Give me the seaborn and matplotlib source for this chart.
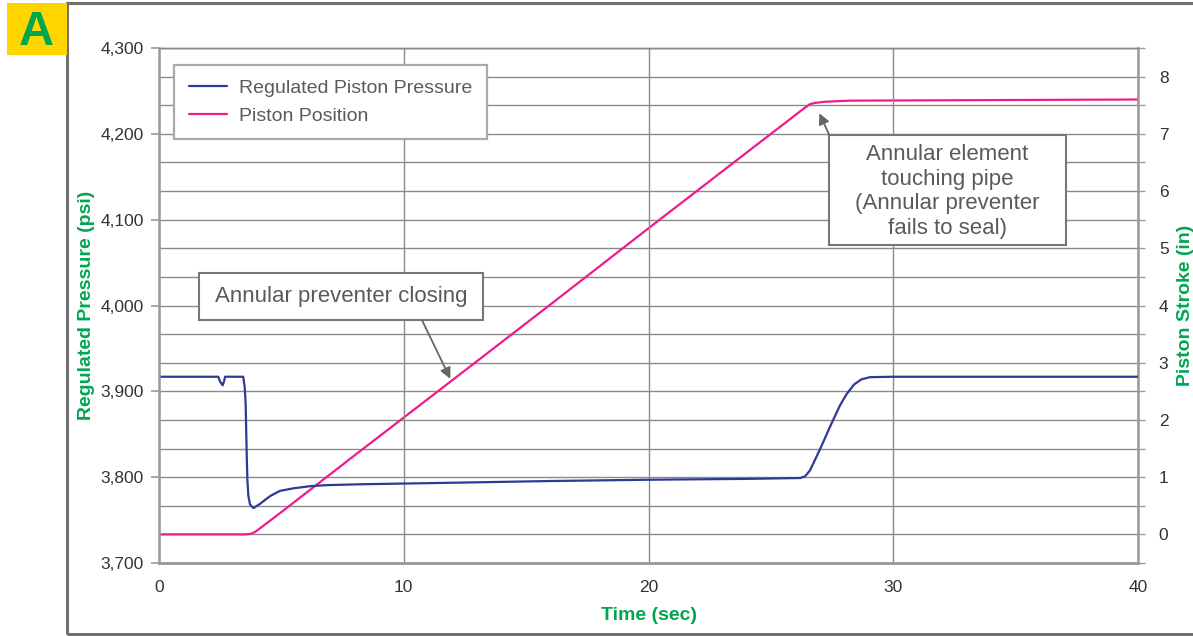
import matplotlib
matplotlib.use("Agg")
import matplotlib.pyplot as plt
import matplotlib.ticker as mticker
from matplotlib.patches import Rectangle
import pandas as pd
import seaborn as sns

# ======================================================
# DATA
# ======================================================
TIME_P = [0, 2.42, 2.5, 2.6, 2.66, 2.7, 3.44, 3.5, 3.54, 3.58, 3.61, 3.65,
          3.72, 3.86, 4.13, 4.54, 4.94, 5.49, 6.17, 6.85, 8.2, 12, 16, 20,
          24, 26.2, 26.4, 26.6, 27.0, 27.42, 27.83, 28.1, 28.4, 28.7, 29.05, 30, 40]
PRESSURE = [3917, 3917, 3911, 3907, 3912, 3917, 3917, 3905, 3885, 3830, 3797, 3778,
            3768, 3764, 3769, 3778, 3784, 3787, 3789.5, 3790.7, 3791.7, 3793.5, 3795.5, 3797,
            3798, 3799, 3801, 3808, 3832, 3859, 3884, 3897, 3908, 3914, 3916.5, 3917, 3917]

TIME_S = [0, 3.5, 3.7, 3.85, 4.0, 4.2, 5.0, 8.2, 12, 16, 20, 24,
          26.4, 26.6, 26.8, 27.2, 28.2, 40]
STROKE = [0, 0, 0.005, 0.025, 0.065, 0.13, 0.39, 1.45, 2.7, 4.02, 5.35, 6.67,
          7.46, 7.52, 7.54, 7.56, 7.58, 7.6]

SERIES = ["Regulated Piston Pressure", "Piston Position"]
COLORS = {"Regulated Piston Pressure": "#2E3A94", "Piston Position": "#EC1C8C"}

NOTE_CLOSING = "Annular preventer closing"
NOTE_TOUCH = "Annular element\ntouching pipe\n(Annular preventer\nfails to seal)"

GREEN = "#00A651"
GRID = "#8a8a8a"
SPINE = "#9a9a9a"
TEXT_GRAY = "#5a5a5a"

# ======================================================
# STYLE
# ======================================================
sns.set_style("white")
plt.rcParams["font.family"] = ["Liberation Sans", "DejaVu Sans"]

df_p = pd.DataFrame({"Time": TIME_P, "Value": PRESSURE})
df_s = pd.DataFrame({"Time": TIME_S, "Value": STROKE})

fig = plt.figure(figsize=(11.93, 6.36), dpi=100)
ax = fig.add_axes([0.1333, 0.1148, 0.8206, 0.8097])
ax2 = ax.twinx()

# pressure axis drawn on top of the stroke axis (which holds the grid)
ax.set_zorder(ax2.get_zorder() + 1)
ax.patch.set_visible(False)

# ---- LINES ----
sns.lineplot(data=df_s, x="Time", y="Value", ax=ax2, color=COLORS[SERIES[1]],
             linewidth=1.6, label=SERIES[1])
sns.lineplot(data=df_p, x="Time", y="Value", ax=ax, color=COLORS[SERIES[0]],
             linewidth=1.6, label=SERIES[0])

# ---- AXES ----
ax.set_xlim(0, 40)
ax.set_ylim(3700, 4300)
ax2.set_ylim(-0.5, 8.5)

ax.xaxis.set_major_locator(mticker.MultipleLocator(10))
ax.xaxis.set_minor_locator(mticker.MultipleLocator(1))
ax.yaxis.set_major_locator(mticker.MultipleLocator(100))
ax.yaxis.set_major_formatter(mticker.FuncFormatter(lambda v, p: f"{v:,.0f}"))
ax2.yaxis.set_major_locator(mticker.MultipleLocator(1))
ax2.yaxis.set_minor_locator(mticker.MultipleLocator(0.5))

ax.tick_params(axis="x", which="major", length=6, width=1.2, color=SPINE,
               labelsize=12.5, labelcolor="#333333", pad=6)
ax.tick_params(axis="x", which="minor", length=3.5, width=1.0, color=SPINE)
ax.tick_params(axis="y", which="major", length=6, width=1.2, color=SPINE,
               labelsize=12.5, labelcolor="#333333", pad=5)
ax2.tick_params(axis="y", which="both", length=5, width=1.0, color=SPINE,
                labelsize=12.5, labelcolor="#333333", pad=10)

ax.set_xlabel("Time (sec)", color=GREEN, fontsize=14, fontweight="bold", labelpad=9)
ax.set_ylabel("Regulated Pressure (psi)", color=GREEN, fontsize=14,
              fontweight="bold", labelpad=4)
ax2.set_ylabel("Piston Stroke (in)", color=GREEN, fontsize=14,
               fontweight="bold", labelpad=6)

# ---- GRID ----
ax2.grid(True, which="both", axis="y", color=GRID, linewidth=1.0)
ax2.set_axisbelow(True)
ax.grid(True, which="major", axis="x", color=GRID, linewidth=1.0)
ax.set_axisbelow(True)

for a in (ax, ax2):
    for side, sp in a.spines.items():
        sp.set_color(SPINE)
        sp.set_linewidth(1.8)
    a.spines["top"].set_linewidth(1.0)
    a.spines["top"].set_color(GRID)
ax.spines["right"].set_visible(False)
ax2.spines["left"].set_visible(False)

# ---- LEGEND ----
if ax2.get_legend() is not None:
    ax2.get_legend().remove()
h1, l1 = ax.get_legend_handles_labels()
h2, l2 = ax2.get_legend_handles_labels()
leg = ax.legend(h1 + h2, l1 + l2, loc="upper left", bbox_to_anchor=(0.0153, 0.967),
                borderaxespad=0, frameon=True, fancybox=False, framealpha=1,
                edgecolor="#aaaaaa", fontsize=14, handlelength=2.0,
                handletextpad=0.58, borderpad=0.75, labelspacing=0.5,
                labelcolor=TEXT_GRAY)
leg.get_frame().set_linewidth(1.6)
leg.set_zorder(10)

# ---- ANNOTATIONS ----
ax.add_patch(Rectangle((0.0409, 0.4718), 0.2901, 0.0913, transform=ax.transAxes,
                       facecolor="white", edgecolor="#777777", linewidth=1.5, zorder=6))
ax.text(0.1859, 0.5175, NOTE_CLOSING, transform=ax.transAxes, ha="center",
        va="center", fontsize=16, color=TEXT_GRAY, zorder=7)
ax.annotate("", xy=(11.9, 2.72), xycoords=ax2.transData,
            xytext=(0.2686, 0.4718), textcoords=ax.transAxes,
            arrowprops=dict(arrowstyle="-|>", color="#666666", lw=1.3,
                            mutation_scale=16, shrinkA=0, shrinkB=0), zorder=7)

ax.add_patch(Rectangle((0.6844, 0.6175), 0.2421, 0.2145, transform=ax.transAxes,
                       facecolor="white", edgecolor="#777777", linewidth=1.5, zorder=6))
ax.text(0.8054, 0.7214, NOTE_TOUCH, transform=ax.transAxes, ha="center",
        va="center", multialignment="center", linespacing=1.23,
        fontsize=16, color=TEXT_GRAY, zorder=7)
ax.annotate("", xy=(26.98, 7.36), xycoords=ax2.transData,
            xytext=(0.6844, 0.832), textcoords=ax.transAxes,
            arrowprops=dict(arrowstyle="-|>", color="#666666", lw=1.3,
                            mutation_scale=16, shrinkA=0, shrinkB=0), zorder=7)

# ---- FRAME AND PANEL BADGE ----
fig.add_artist(Rectangle((0.0562, 0.0031), 0.96, 0.9922, transform=fig.transFigure,
                         facecolor="none", edgecolor="#707070", linewidth=2.2))
fig.add_artist(Rectangle((0.0059, 0.9135), 0.0503, 0.0818, transform=fig.transFigure,
                         facecolor="#FFD500", edgecolor="none"))
fig.text(0.0308, 0.9292, "A", ha="center", va="baseline", fontsize=35,
         fontweight="bold", color=GREEN)

fig.savefig("out.png", dpi=100)
